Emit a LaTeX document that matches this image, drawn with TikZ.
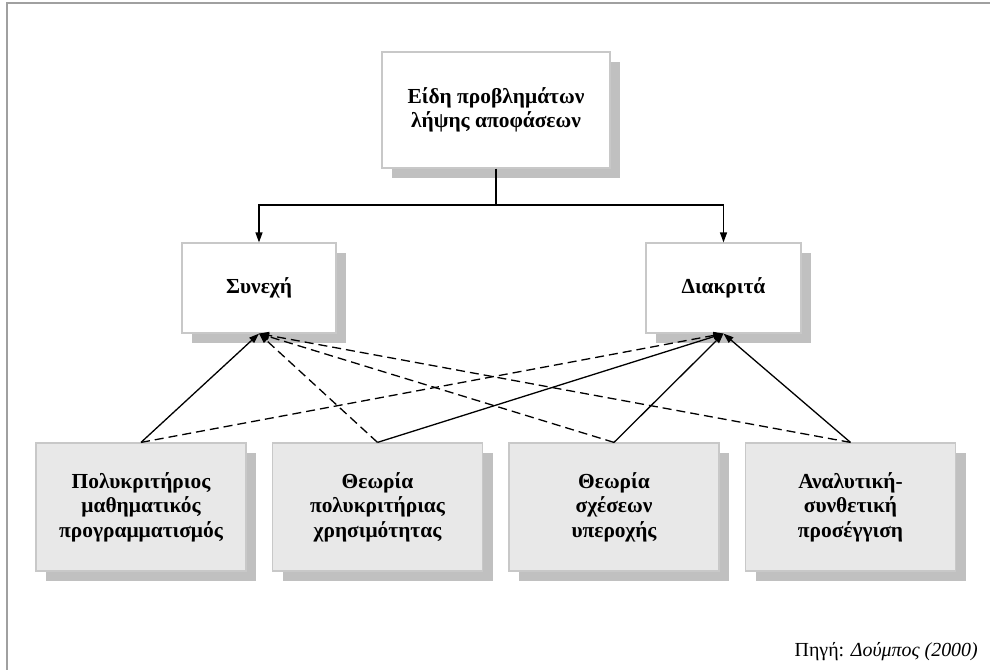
\documentclass[tikz,border=0pt]{standalone}
\usepackage{fontspec}
\setmainfont{Liberation Serif}
\usetikzlibrary{arrows.meta,shadows}
\definecolor{framegray}{RGB}{160,160,160}
\definecolor{boxedge}{RGB}{200,200,200}
\definecolor{shadegray}{RGB}{192,192,192}
\definecolor{lowfill}{RGB}{232,232,232}

\begin{document}
\begin{tikzpicture}[x=1bp,y=-1bp,
  card/.style={draw=boxedge, line width=1.2bp, align=center, inner sep=0pt,
     font=\fontsize{21.5}{24.5}\selectfont\bfseries,
     drop shadow={shadow xshift=10bp, shadow yshift=-10bp, fill=shadegray, opacity=1}},
  topcard/.style={card, fill=white},
  lowcard/.style={card, fill=lowfill, minimum width=210bp, minimum height=128bp},
  link/.style={line width=1.3bp, -{Triangle[length=10bp,width=7bp]}},
  dlink/.style={link, dash pattern=on 9bp off 5bp}]

% page and frame
\useasboundingbox (0,0) rectangle (990,670);
\fill[white] (0,0) rectangle (990,670);
\draw[framegray, line width=2bp] (7,670) -- (7,3) -- (990,3);

% upper levels
\node[topcard, minimum width=228bp, minimum height=116bp] (top) at (496,110)
  {Είδη προβλημάτων\\λήψης αποφάσεων};
\node[topcard, minimum width=154bp, minimum height=90bp] (sy) at (259,288) {Συνεχή};
\node[topcard, minimum width=155bp, minimum height=90bp] (di) at (723.5,288) {Διακριτά};

% methods
\node[lowcard] (m1) at (141,507) {Πολυκριτήριος\\μαθηματικός\\προγραμματισμός};
\node[lowcard] (m2) at (377.5,507) {Θεωρία\\πολυκριτήριας\\χρησιμότητας};
\node[lowcard] (m3) at (614,507) {Θεωρία\\σχέσεων\\υπεροχής};
\node[lowcard] (m4) at (850.5,507) {Αναλυτική-\\συνθετική\\προσέγγιση};

% split of the root
\coordinate (hub) at (496,205);
\draw[line width=1.3bp] (top.south) -- (hub);
\draw[link] (hub) -| (sy.north);
\draw[link] (hub) -| (di.north);

% method links
\draw[link]  (m1.north) -- (sy.south);
\draw[dlink] (m1.north) -- (di.south);
\draw[dlink] (m2.north) -- (sy.south);
\draw[link]  (m2.north) -- (di.south);
\draw[dlink] (m3.north) -- (sy.south);
\draw[link]  (m3.north) -- (di.south);
\draw[dlink] (m4.north) -- (sy.south);
\draw[link]  (m4.north) -- (di.south);

% source note
\node[anchor=base east, font=\fontsize{20}{22}\selectfont, inner sep=0pt] (src) at (978,656)
  {Πηγή: \textit{Δούμπος (2000)}};
\end{tikzpicture}
\end{document}
